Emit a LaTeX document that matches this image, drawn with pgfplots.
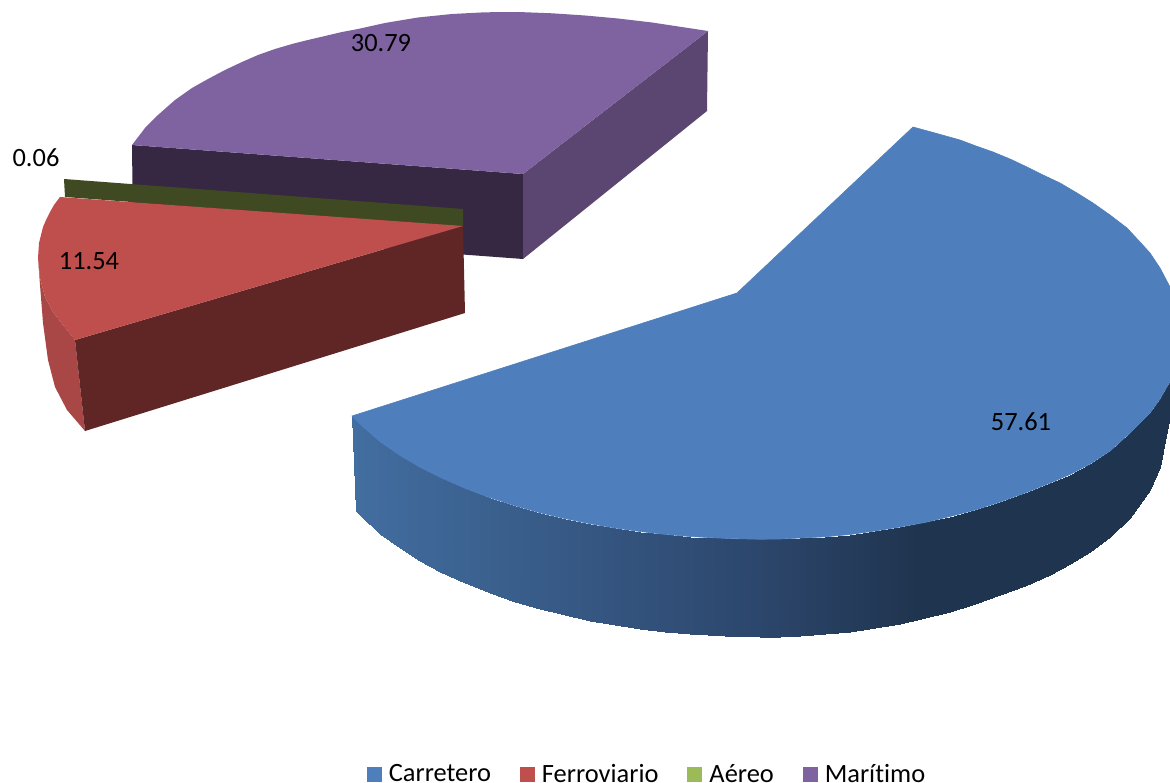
\documentclass[border=0pt]{standalone}
\usepackage{pgfplots}
\pgfplotsset{compat=1.18}
\usepackage{fontspec}
\setmainfont{Carlito}[Ligatures=NoCommon]
\definecolor{bluetop}{RGB}{78,126,187}
\definecolor{redtop}{RGB}{190,79,76}
\definecolor{redfront}{RGB}{96,38,38}
\definecolor{redarc}{RGB}{168,71,69}
\definecolor{greenside}{RGB}{63,74,34}
\definecolor{greenleg}{RGB}{155,187,89}
\definecolor{purtop}{RGB}{127,99,160}
\definecolor{purfront}{RGB}{54,39,66}
\definecolor{purright}{RGB}{90,70,112}
\newcommand{\lab}{\fontsize{26.4}{30}\selectfont}
\begin{document}
\begin{tikzpicture}
\path[use as bounding box] (0,0) rectangle (1170pt,783pt);
\begin{axis}[
  at={(0,0)}, anchor=south west,
  x=1pt, y=1pt, scale only axis,
  width=1170pt, height=783pt,
  xmin=0, xmax=1170, ymin=0, ymax=783, y dir=reverse,
  hide axis, clip=true,
  colormap={sideblue}{rgb255(352)=(66,110,160) rgb255(760)=(44,70,108) rgb255(920)=(31,52,78) rgb255(1170)=(31,52,78)},
  point meta min=352, point meta max=1170,
  legend style={at={(axis cs:647,774)}, anchor=center, draw=none, fill=none,
    font=\lab, legend columns=4, inner sep=0pt, outer sep=0pt,
    /tikz/every odd column/.style={column sep=5pt},
    /tikz/every even column/.style={column sep=27pt}},
  legend cell align=left,
  legend image code/.code={\fill[draw=none,#1] (0pt,-7.5pt) rectangle (15pt,7.5pt);},
]
% Maritimo
\addplot[fill=purfront, draw=none, forget plot] coordinates {(132,145)(523,174)(523,259)(133,230)};
\addplot[fill=purright, draw=none, forget plot] coordinates {(523,174)(708,31)(707,111)(523,259)};
\addplot[fill=purtop, draw=none, forget plot] coordinates {(132,145)(145,128)(158,115)(175,100)(192,88)(208,79)(225,70)(242,62)(258,55)(275,49)(292,44)(308,40)(325,36)(342,32)(358,29)(385,23)(418,17.5)(452,14)(485,12.3)(518,12)(552,13.3)(585,15.5)(618,18.5)(652,22.5)(685,27.5)(708,31)(523,174)};
% Aereo
\addplot[fill=greenside, draw=none, forget plot] coordinates {(64,179)(463,209)(463,227)(65,197)};
% Ferroviario
\addplot[fill=redarc, draw=none, forget plot] coordinates {(38,258)(40,278)(45,297)(53,312)(63,325)(75,340)(85,431)(67,410)(55,387)(48,360)(43,323)(40,285)};
\addplot[fill=redfront, draw=none, forget plot] coordinates {(75,340)(463,226)(465,313)(85,431)};
\addplot[fill=redtop, draw=none, forget plot] coordinates {(60,197)(54,205)(50,212)(46,220)(43,227)(41,235)(39,243)(38,258)(40,278)(45,297)(53,312)(63,325)(75,340)(463,226)};
% Carretero side
\addplot[patch, patch type=rectangle, shader=interp, point meta=explicit, forget plot] table[meta=c] {
x y c
352 416 352
360 424.3 360
360 515.3 360
356 511 352
360 424.3 360
380 441.5 380
380 533.5 380
360 515.3 360
380 441.5 380
400 455.5 400
400 548.4 400
380 533.5 380
400 455.5 400
420 467.2 420
420 560.8 420
400 548.4 400
420 467.2 420
440 477.3 440
440 571.5 440
420 560.8 420
440 477.3 440
465 488.3 465
465 583.2 465
440 571.5 440
465 488.3 465
490 497.6 490
490 593.1 490
465 583.2 465
490 497.6 490
515 505.7 515
515 601.7 515
490 593.1 490
515 505.7 515
540 512.7 540
540 609 540
515 601.7 515
540 512.7 540
565 518.6 565
565 615.4 565
540 609 540
565 518.6 565
590 523.7 590
590 620.8 590
565 615.4 565
590 523.7 590
615 528 615
615 625.3 615
590 620.8 590
615 528 615
640 531.5 640
640 629.1 640
615 625.3 615
640 531.5 640
665 534.4 665
665 632.1 665
640 629.1 640
665 534.4 665
690 536.5 690
690 634.3 690
665 632.1 665
690 536.5 690
725 538.4 725
725 636.3 725
690 634.3 690
725 538.4 725
760 539.3 760
760 637 760
725 636.3 725
760 539.3 760
780 539 780
780 636.5 780
760 637 760
780 539 780
800 538 800
800 635.5 800
780 636.5 780
800 538 800
825 536.8 825
825 634 825
800 635.5 800
825 536.8 825
850 534.5 850
850 631.5 850
825 634 825
850 534.5 850
875 531 875
875 628 875
850 631.5 850
875 531 875
900 527 900
900 623.5 900
875 628 875
900 527 900
925 522.5 925
925 618 925
900 623.5 900
925 522.5 925
950 516.5 950
950 612 950
925 618 925
950 516.5 950
975 510 975
975 604 975
950 612 950
975 510 975
1000 502 1000
1000 595 1000
975 604 975
1000 502 1000
1025 493 1025
1025 585.5 1025
1000 595 1000
1025 493 1025
1050 483 1050
1050 575 1050
1025 585.5 1025
1050 483 1050
1070 474.5 1070
1070 564 1070
1050 575 1050
1070 474.5 1070
1090 464 1090
1090 552 1090
1070 564 1070
1090 464 1090
1110 451 1110
1110 537 1110
1090 552 1090
1110 451 1110
1130 433 1130
1130 518 1130
1110 537 1110
1130 433 1130
1150 413 1150
1150 490 1150
1130 518 1130
1150 413 1150
1160 399 1160
1160 467 1160
1150 490 1150
1160 399 1160
1172 378 1170
1172 405 1170
1160 467 1160
};
% Carretero top
\addplot[fill=bluetop, draw=bluetop, line width=0.6pt, forget plot] coordinates {(737,293)(913,127)(935,133)(960,140)(976,146)(993,152)(1010,159)(1027,167)(1043,175)(1060,183)(1077,193)(1093,203)(1110,215)(1127,228)(1140,242)(1150,253)(1160,268)(1170,287)(1180,315)(1180,360)(1172,378)(1160,399)(1150,413)(1130,433)(1110,451)(1090,464)(1070,474.5)(1050,483)(1025,493)(1000,502)(975,510)(950,516.5)(925,522.5)(900,527)(875,531)(850,534.5)(825,536.8)(800,538)(780,539)(760,539.3)(725,538.4)(690,536.5)(665,534.4)(640,531.5)(615,528)(590,523.7)(565,518.6)(540,512.7)(515,505.7)(490,497.6)(465,488.3)(440,477.3)(420,467.2)(400,455.5)(380,441.5)(360,424.3)(352,416)(737,293)};
% legend
\addlegendimage{fill=bluetop}\addlegendentry{Carretero}
\addlegendimage{fill=redtop}\addlegendentry{Ferroviario}
\addlegendimage{fill=greenleg}\addlegendentry{Aéreo}
\addlegendimage{fill=purtop}\addlegendentry{Marítimo}
% data labels
\node[font=\lab] at (axis cs:1021,422) {57.61};
\node[font=\lab] at (axis cs:89,261) {11.54};
\node[font=\lab] at (axis cs:36,158) {0.06};
\node[font=\lab] at (axis cs:381,43) {30.79};
\end{axis}
\end{tikzpicture}
\end{document}
